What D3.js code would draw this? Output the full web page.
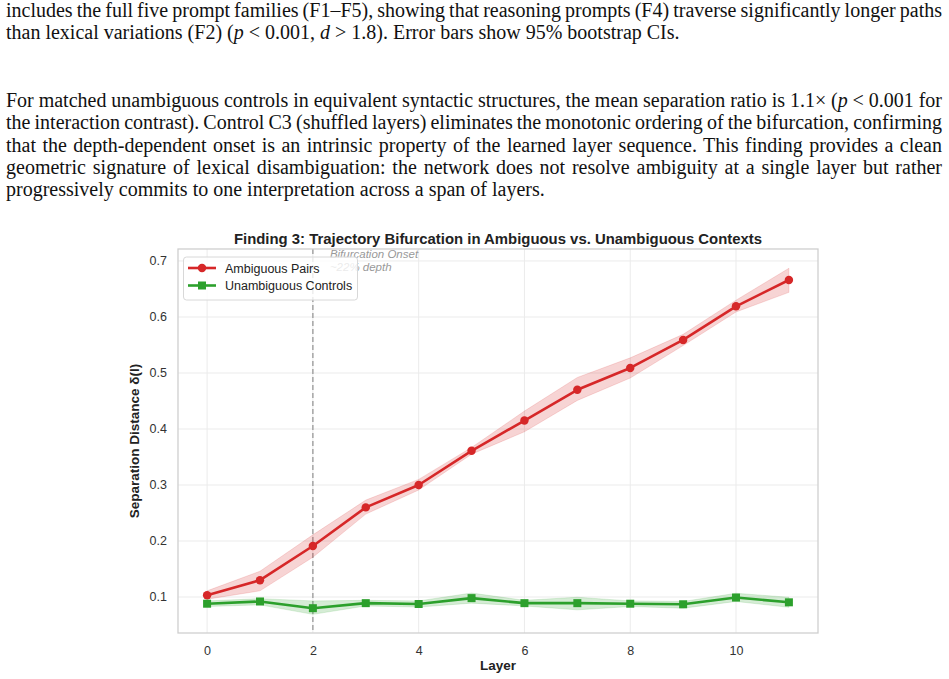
<!DOCTYPE html>
<html>
<head>
<meta charset="utf-8">
<script src="https://cdn.jsdelivr.net/npm/d3@7"></script>
<style>
  body { margin: 0; background: #fff; }
  svg { display: block; }
</style>
</head>
<body>
<svg id="page" width="949" height="679"></svg>
<script>
/*
  Page text (italic parts are wrapped in _underscores_)
*/
var para1 = [
  "includes the full five prompt families (F1–F5), showing that reasoning prompts (F4) traverse significantly longer paths",
  "than lexical variations (F2) (_p_ < 0.001, _d_ > 1.8). Error bars show 95% bootstrap CIs."
];
var para2 = [
  "For matched unambiguous controls in equivalent syntactic structures, the mean separation ratio is 1.1× (_p_ < 0.001 for",
  "the interaction contrast). Control C3 (shuffled layers) eliminates the monotonic ordering of the bifurcation, confirming",
  "that the depth-dependent onset is an intrinsic property of the learned layer sequence. This finding provides a clean",
  "geometric signature of lexical disambiguation: the network does not resolve ambiguity at a single layer but rather",
  "progressively commits to one interpretation across a span of layers."
];

/*
  Chart data
*/
var layers = [0, 1, 2, 3, 4, 5, 6, 7, 8, 9, 10, 11];
var ambMean  = [0.103, 0.130, 0.191, 0.260, 0.300, 0.361, 0.415, 0.470, 0.509, 0.559, 0.619, 0.666];
var ambLow   = [0.096, 0.111, 0.171, 0.248, 0.291, 0.355, 0.395, 0.451, 0.491, 0.549, 0.609, 0.644];
var ambHigh  = [0.111, 0.146, 0.211, 0.273, 0.310, 0.367, 0.432, 0.492, 0.527, 0.569, 0.630, 0.687];
var unMean   = [0.088, 0.092, 0.080, 0.089, 0.0875, 0.098, 0.089, 0.089, 0.088, 0.087, 0.099, 0.0905];
var unLow    = [0.083, 0.086, 0.069, 0.084, 0.082, 0.089, 0.084, 0.077, 0.083, 0.080, 0.092, 0.0816];
var unHigh   = [0.093, 0.097, 0.093, 0.094, 0.093, 0.107, 0.094, 0.0995, 0.093, 0.092, 0.1066, 0.0995];
var xTicks = [0, 2, 4, 6, 8, 10];
var yTicks = [0.1, 0.2, 0.3, 0.4, 0.5, 0.6, 0.7];
var onsetLayer = 2;

var RED = "#d62728";
var GREEN = "#2ca02c";
var SANS = "'Liberation Sans', Arial, Helvetica, sans-serif";
var SERIF = "'Liberation Serif', 'Times New Roman', serif";
var TEXT_WIDTH = 936;

var svg = d3.select("#page");

//Writes one line of body text, splitting on _ for italic runs.
//Justified lines get their leftover width spread over the word gaps
function writeLine(str, y, justify){
  var t = svg.append("text")
    .attr("x", 6)
    .attr("y", y)
    .attr("font-family", SERIF)
    .attr("font-size", 20)
    .attr("fill", "#111");
  str.split("_").forEach(function(part, i){
    if(part.length == 0) return;
    t.append("tspan")
      .attr("font-style", i % 2 == 1 ? "italic" : null)
      .text(part);
  });
  if(justify){
    var gaps = str.split(" ").length - 1;
    var w = t.node().getComputedTextLength();
    t.attr("word-spacing", ((TEXT_WIDTH - w) / gaps).toFixed(3));
  }
}

para1.forEach(function(l, i){ writeLine(l, 17 + i * 22.3, i < para1.length - 1); });
para2.forEach(function(l, i){ writeLine(l, 107 + i * 22.3, i < para2.length - 1); });

/*
  Chart
*/
var plot = {left: 178, right: 818, top: 249, bottom: 633};

var x = d3.scaleLinear().domain([-0.55, 11.55]).range([plot.left, plot.right]);
var y = d3.scaleLinear().domain([0.0357, 0.7214]).range([plot.bottom, plot.top]);

var g = svg.append("g");

//Grid
g.append("g").selectAll("line").data(xTicks).enter().append("line")
  .attr("x1", function(d){ return x(d); }).attr("x2", function(d){ return x(d); })
  .attr("y1", plot.top).attr("y2", plot.bottom)
  .attr("stroke", "#ebebeb").attr("stroke-width", 1);
g.append("g").selectAll("line").data(yTicks).enter().append("line")
  .attr("x1", plot.left).attr("x2", plot.right)
  .attr("y1", function(d){ return y(d); }).attr("y2", function(d){ return y(d); })
  .attr("stroke", "#ebebeb").attr("stroke-width", 1);

//Axes (ticks hidden, labels only)
var xAxis = g.append("g")
  .attr("transform", "translate(0," + plot.bottom + ")")
  .call(d3.axisBottom(x).tickValues(xTicks).tickSize(0).tickPadding(13).tickFormat(d3.format("d")));
var yAxis = g.append("g")
  .attr("transform", "translate(" + plot.left + ",0)")
  .call(d3.axisLeft(y).tickValues(yTicks).tickSize(0).tickPadding(11).tickFormat(d3.format(".1f")));
[xAxis, yAxis].forEach(function(a){
  a.attr("font-size", null).attr("font-family", null);
  a.select(".domain").remove();
  a.selectAll("text")
    .style("font-family", SANS).style("font-size", "12.5px").attr("fill", "#333");
});

//Onset marker
g.append("line")
  .attr("x1", x(onsetLayer)).attr("x2", x(onsetLayer))
  .attr("y1", plot.top).attr("y2", plot.bottom)
  .attr("stroke", "#999").attr("stroke-width", 1.3)
  .attr("stroke-dasharray", "5,3");
var onset = g.append("text")
  .attr("font-family", SANS).attr("font-size", 11.5)
  .attr("font-style", "italic").attr("fill", "#999");
onset.append("tspan").attr("x", x(onsetLayer) + 17).attr("y", 258).text("Bifurcation Onset");
onset.append("tspan").attr("x", x(onsetLayer) + 17).attr("dy", 12.5).text("~22% depth");

//Bands, lines, markers
function drawSeries(mean, low, high, color, marker){
  var pts = layers.map(function(l, i){ return {l: l, m: mean[i], lo: low[i], hi: high[i]}; });
  g.append("path").datum(pts)
    .attr("fill", color).attr("fill-opacity", 0.2)
    .attr("stroke", color).attr("stroke-opacity", 0.15)
    .attr("d", d3.area()
      .x(function(d){ return x(d.l); })
      .y0(function(d){ return y(d.lo); })
      .y1(function(d){ return y(d.hi); }));
  g.append("path").datum(pts)
    .attr("fill", "none").attr("stroke", color).attr("stroke-width", 2.6)
    .attr("stroke-linejoin", "round")
    .attr("d", d3.line().x(function(d){ return x(d.l); }).y(function(d){ return y(d.m); }));
  g.append("g").selectAll("path").data(pts).enter().append("path")
    .attr("transform", function(d){ return "translate(" + x(d.l) + "," + y(d.m) + ")"; })
    .attr("fill", color)
    .attr("d", d3.symbol().type(marker).size(marker == d3.symbolSquare ? 64 : 56));
}

drawSeries(ambMean, ambLow, ambHigh, RED, d3.symbolCircle);
drawSeries(unMean, unLow, unHigh, GREEN, d3.symbolSquare);

//Frame
g.append("rect")
  .attr("x", plot.left).attr("y", plot.top)
  .attr("width", plot.right - plot.left).attr("height", plot.bottom - plot.top)
  .attr("fill", "none").attr("stroke", "#cfcfcf").attr("stroke-width", 1.3);

//Legend
var legend = g.append("g");
legend.append("rect")
  .attr("x", 183.5).attr("y", 257).attr("width", 174).attr("height", 43).attr("rx", 3)
  .attr("fill", "#fff").attr("fill-opacity", 0.8)
  .attr("stroke", "#d8d8d8");
[["Ambiguous Pairs", RED, d3.symbolCircle], ["Unambiguous Controls", GREEN, d3.symbolSquare]].forEach(function(item, i){
  var ly = 268 + i * 17.5;
  legend.append("line").attr("x1", 188).attr("x2", 216).attr("y1", ly).attr("y2", ly)
    .attr("stroke", item[1]).attr("stroke-width", 2.6);
  legend.append("path").attr("transform", "translate(202," + ly + ")").attr("fill", item[1])
    .attr("d", d3.symbol().type(item[2]).size(item[2] == d3.symbolSquare ? 64 : 56));
  legend.append("text").attr("x", 225).attr("y", ly + 4.5)
    .attr("font-family", SANS).attr("font-size", 12.5).attr("fill", "#222")
    .text(item[0]);
});

//Titles
g.append("text")
  .attr("x", (plot.left + plot.right) / 2).attr("y", 244)
  .attr("text-anchor", "middle")
  .attr("font-family", SANS).attr("font-size", 14.9).attr("font-weight", "bold").attr("fill", "#222")
  .text("Finding 3: Trajectory Bifurcation in Ambiguous vs. Unambiguous Contexts");
g.append("text")
  .attr("x", (plot.left + plot.right) / 2).attr("y", 670)
  .attr("text-anchor", "middle")
  .attr("font-family", SANS).attr("font-size", 13.5).attr("font-weight", "bold").attr("fill", "#222")
  .text("Layer");
g.append("text")
  .attr("transform", "translate(139," + (plot.top + plot.bottom) / 2 + ") rotate(-90)")
  .attr("text-anchor", "middle")
  .attr("font-family", SANS).attr("font-size", 13.5).attr("font-weight", "bold").attr("fill", "#222")
  .text("Separation Distance δ(l)");
</script>
</body>
</html>
